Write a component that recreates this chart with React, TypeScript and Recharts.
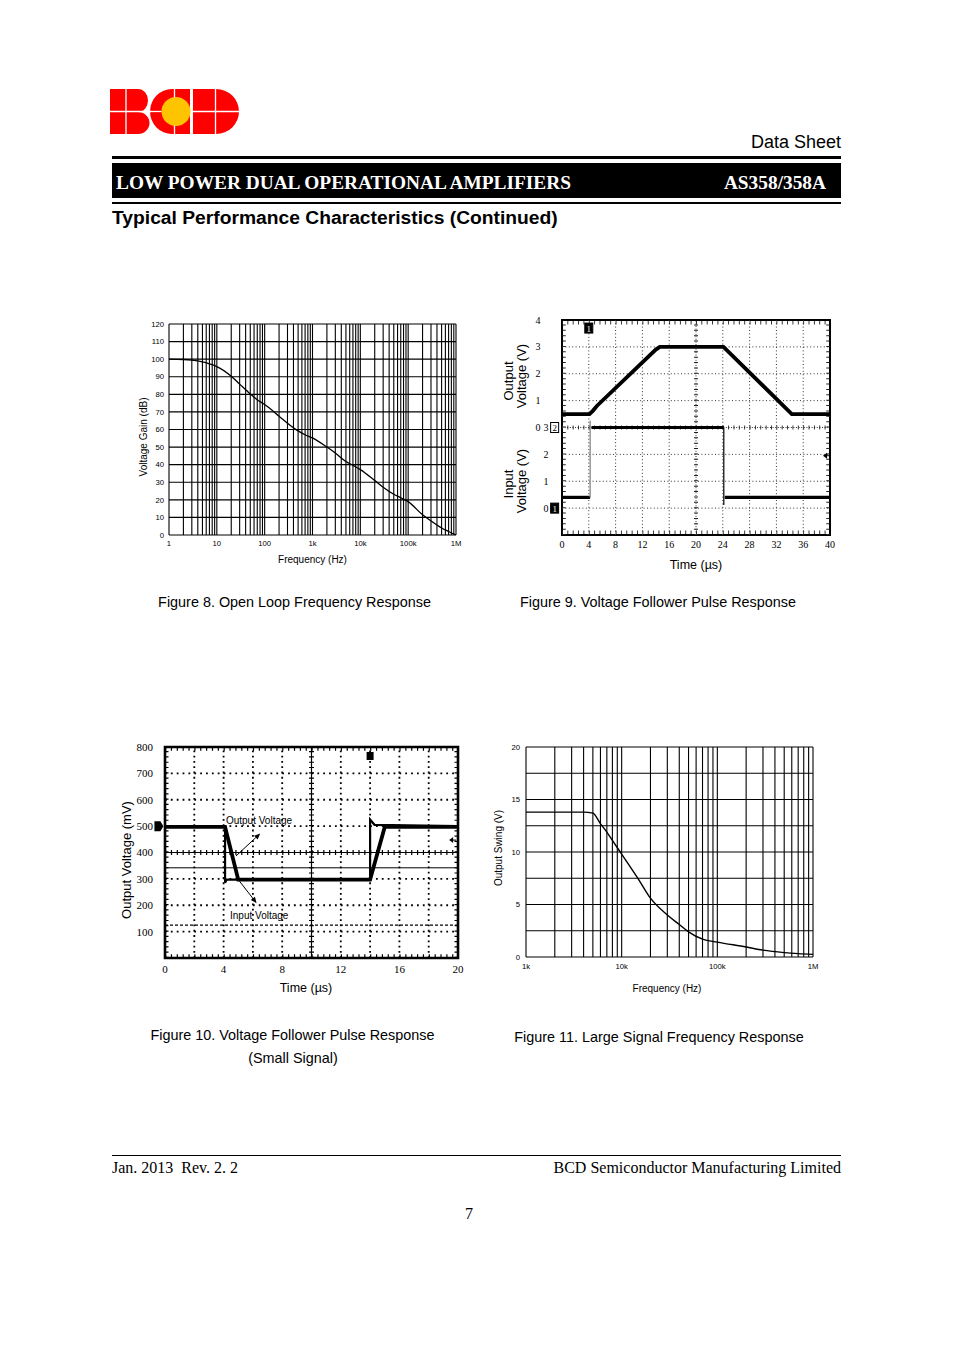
import React from 'react';
import { LineChart, Line, XAxis, YAxis, ReferenceLine, ReferenceArea, ReferenceDot } from 'recharts';

const SANS = "'Liberation Sans', Arial, sans-serif";
const SERIF = "'Liberation Serif', 'Times New Roman', serif";

// ---------------- Figure 8: Open loop frequency response ----------------
const fig8Freq = [1, 2, 3, 5, 7, 10, 20, 30, 50, 70, 100, 200, 300, 500, 700, 1000, 2000, 3000, 5000, 7000, 10000, 20000, 30000, 50000, 70000, 100000, 200000, 300000, 500000, 700000, 1000000];
const fig8Gain = [100, 99.8, 99.4, 98.4, 97.3, 95.8, 90.3, 85.8, 80.2, 76.9, 74.2, 67.6, 63.6, 59.2, 57, 55.2, 50, 46.6, 41.8, 39.6, 37.2, 31, 27.2, 23.2, 21.2, 19, 11.5, 8, 4, 2, 0];
const fig8XTicks = [1, 10, 100, 1000, 10000, 100000, 1000000];
const fig8XTickLabels = ['1', '10', '100', '1k', '10k', '100k', '1M'];
const fig8YTicks = [0, 10, 20, 30, 40, 50, 60, 70, 80, 90, 100, 110, 120];
const fig8GridFreq = [
  1, 2, 3, 4, 5, 6, 7, 8, 9,
  10, 20, 30, 40, 50, 60, 70, 80, 90,
  100, 200, 300, 400, 500, 600, 700, 800, 900,
  1000, 2000, 3000, 4000, 5000, 6000, 7000, 8000, 9000,
  10000, 20000, 30000, 40000, 50000, 60000, 70000, 80000, 90000,
  100000, 200000, 300000, 400000, 500000, 600000, 700000, 800000, 900000,
  1000000,
];

// ---------------- Figure 9: Voltage follower pulse response ----------------
const fig9XTicks = [0, 4, 8, 12, 16, 20, 24, 28, 32, 36, 40];
const fig9OutTicks = [0, 1, 2, 3, 4];
const fig9InTicks = [0, 1, 2, 3];
const fig9OutT = [0, 4.1, 4.6, 5.2, 14.0, 14.6, 24.1, 34.3, 40];
const fig9OutV = [0.5, 0.5, 0.62, 0.8, 2.9, 3.0, 3.0, 0.5, 0.5];
const fig9InLow1T = [0, 4.2];
const fig9InLow1V = [0.4, 0.4];
const fig9InRiseT = [4.2, 4.2];
const fig9InRiseV = [0.4, 3.25];
const fig9InHighT = [4.4, 24.15];
const fig9InHighV = [3.0, 3.0];
const fig9InFallT = [24.15, 24.15];
const fig9InFallV = [3.0, 0.12];
const fig9InLow2T = [24.3, 40];
const fig9InLow2V = [0.4, 0.4];
const fig9GridT = [4, 8, 12, 16, 24, 28, 32, 36];
const fig9GridV = [-3, -2, -1, 1, 2, 3];

// ---------------- Figure 10: small signal pulse response ----------------
const fig10XTicks = [0, 4, 8, 12, 16, 20];
const fig10YTicks = [100, 200, 300, 400, 500, 600, 700, 800];
const fig10OutT = [0, 4.1, 5.0, 14.0, 15.0, 20];
const fig10OutV = [497, 497, 297, 297, 497, 497];
const fig10InT = [0, 4.1, 4.1, 4.2, 14.0, 14.0, 14.3, 20];
const fig10InV = [500, 500, 285, 297, 297, 525, 505, 500];
const fig10GridT = [2, 4, 6, 8, 12, 14, 16, 18];
const fig10GridV = [100, 200, 300, 500, 600, 700];

// ---------------- Figure 11: large signal frequency response ----------------
const fig11Freq = [1000, 2000, 3000, 4000, 5000, 6000, 7000, 8000, 10000, 15000, 20000, 30000, 40000, 50000, 70000, 100000, 200000, 300000, 500000, 700000, 1000000];
const fig11Swing = [13.8, 13.8, 13.8, 13.8, 13.7, 12.7, 11.9, 11.1, 9.8, 7.4, 5.6, 4.0, 3.1, 2.4, 1.7, 1.42, 0.95, 0.65, 0.42, 0.32, 0.25];
const fig11XTicks = [1000, 10000, 100000, 1000000];
const fig11XTickLabels = ['1k', '10k', '100k', '1M'];
const fig11YTicks = [0, 5, 10, 15, 20];
const fig11GridY = [0, 2.5, 5, 7.5, 10, 12.5, 15, 17.5, 20];
const fig11GridFreq = [
  1000, 2000, 3000, 4000, 5000, 6000, 7000, 8000, 9000,
  10000, 20000, 30000, 40000, 50000, 60000, 70000, 80000, 90000,
  100000, 200000, 300000, 400000, 500000, 600000, 700000, 800000, 900000,
  1000000,
];

const zipTV = (t: number[], v: number[]) => t.map((x, i) => ({ t: x, v: v[i] }));

// ---------- helpers for text ----------
const rotText = (x: number, y: number, s: string, fs: number, key?: string) => (
  <text key={key} x={x} y={y} transform={`rotate(-90 ${x} ${y})`} textAnchor="middle" dominantBaseline="central" fontSize={fs} fontFamily={SANS} fill="#000">{s}</text>
);
const horText = (x: number, y: number, s: string, fs: number) => (
  <text x={x} y={y} textAnchor="middle" dominantBaseline="central" fontSize={fs} fontFamily={SANS} fill="#000">{s}</text>
);

const chanBox = (label: string, filled: boolean) => (p: any) => (
  <g>
    <rect x={p.cx - 4} y={p.cy - 5} width={8} height={10} fill={filled ? '#000' : '#fff'} stroke="#000" strokeWidth={1} />
    <text x={p.cx} y={p.cy + 3.5} fontSize={9} textAnchor="middle" fill={filled ? '#fff' : '#000'} fontFamily={SERIF}>{label}</text>
  </g>
);
const trigArrow = (p: any) => (
  <g>
    <polygon points={`${p.cx - 3},${p.cy} ${p.cx + 1},${p.cy - 3} ${p.cx + 1},${p.cy + 3}`} fill="#000" />
    <line x1={p.cx} y1={p.cy} x2={p.cx + 4} y2={p.cy} stroke="#000" strokeWidth={1} />
  </g>
);
const chanArrow = (p: any) => (
  <polygon points={`${p.cx - 4},${p.cy - 5} ${p.cx + 2},${p.cy - 5} ${p.cx + 5},${p.cy} ${p.cx + 2},${p.cy + 5} ${p.cx - 4},${p.cy + 5}`} fill="#000" />
);
const trigSquare = (p: any) => <rect x={p.cx - 3.5} y={p.cy - 4} width={7} height={8} fill="#000" />;
const annot = (s: string) => (p: any) => (
  <text x={p.cx} y={p.cy} dominantBaseline="central" fontSize={10} fontFamily={SANS} fill="#000">{s}</text>
);
const arrowShape = (p: any) => {
  const { x1, y1, x2, y2 } = p;
  const ang = Math.atan2(y2 - y1, x2 - x1);
  const L = 6, W = 2.6;
  const bx = x2 - L * Math.cos(ang), by = y2 - L * Math.sin(ang);
  const px = -Math.sin(ang) * W, py = Math.cos(ang) * W;
  return (
    <g>
      <line x1={x1} y1={y1} x2={bx} y2={by} stroke="#000" strokeWidth={1} />
      <polygon points={`${x2},${y2} ${bx + px},${by + py} ${bx - px},${by - py}`} fill="#000" />
    </g>
  );
};

const sansTick7 = { fontSize: 7.7, fill: '#000', fontFamily: SANS };

// ---------------- Figures ----------------
function Fig8() {
  const data = fig8Freq.map((f, i) => ({ f, g: fig8Gain[i] }));
  return (
    <LineChart width={360} height={270} data={data} margin={{ top: 14, right: 14, bottom: 0, left: 0 }}>
      <XAxis dataKey="f" type="number" scale="log" domain={[1, 1000000]} allowDataOverflow ticks={fig8XTicks} interval={0}
        tickFormatter={(v: number) => fig8XTickLabels[fig8XTicks.indexOf(v)]} height={45} axisLine={false} tickLine={false}
        tickSize={0} tickMargin={6} tick={sansTick7}
        label={(p: any) => horText(p.viewBox.x + p.viewBox.width / 2, p.viewBox.y + 24, 'Frequency (Hz)', 10)} />
      <YAxis type="number" domain={[0, 120]} allowDataOverflow ticks={fig8YTicks} interval={0} width={59} axisLine={false}
        tickLine={false} tickSize={0} tickMargin={5} tick={sansTick7}
        label={(p: any) => rotText(p.viewBox.x + 33, p.viewBox.y + 113, 'Voltage Gain (dB)', 10)} />
      {fig8GridFreq.map((f) => (
        <ReferenceLine key={'gx' + f} x={f} stroke="#000" strokeWidth={1.1} />
      ))}
      {fig8YTicks.map((v) => (
        <ReferenceLine key={'gy' + v} y={v} stroke="#000" strokeWidth={1.1} />
      ))}
      <Line dataKey="g" type="monotone" stroke="#000" strokeWidth={1.3} dot={false} activeDot={false} isAnimationActive={false} />
    </LineChart>
  );
}

function Fig9() {
  const dotted = { stroke: '#333', strokeWidth: 1, strokeDasharray: '1 2.4' };
  return (
    <LineChart width={345} height={270} margin={{ top: 10, right: 10, bottom: 0, left: 0 }}>
      <XAxis dataKey="t" type="number" domain={[0, 40]} allowDataOverflow ticks={fig9XTicks} interval={0} height={45}
        axisLine={false} tickLine={false} tickSize={0} tickMargin={5.5}
        tick={{ fontSize: 10, fill: '#000', fontFamily: SERIF }}
        label={(p: any) => horText(p.viewBox.x + p.viewBox.width / 2, p.viewBox.y + 30, 'Time (\u00b5s)', 12.5)} />
      <YAxis yAxisId="in" type="number" domain={[-1, 7]} allowDataOverflow ticks={fig9InTicks} interval={0} width={14}
        axisLine={false} tickLine={false} tickSize={0} tickMargin={13.5}
        tick={{ fontSize: 10, fill: '#000', fontFamily: SERIF }} />
      <YAxis yAxisId="out" type="number" domain={[-4, 4]} allowDataOverflow ticks={fig9OutTicks} interval={0} width={53}
        axisLine={false} tickLine={false} tickSize={0} tickMargin={7.5}
        tick={{ fontSize: 10, fill: '#000', fontFamily: SERIF }}
        label={(p: any) => (
          <g>
            {rotText(p.viewBox.x + 13, p.viewBox.y + 61, 'Output', 13, 'a')}
            {rotText(p.viewBox.x + 26, p.viewBox.y + 56, 'Voltage (V)', 13, 'b')}
            {rotText(p.viewBox.x + 13, p.viewBox.y + 164, 'Input', 13, 'c')}
            {rotText(p.viewBox.x + 26, p.viewBox.y + 161, 'Voltage (V)', 13, 'd')}
          </g>
        )} />
      {fig9GridT.map((t) => (
        <ReferenceLine key={'gx' + t} yAxisId="out" x={t} {...dotted} />
      ))}
      {fig9GridV.map((v) => (
        <ReferenceLine key={'gy' + v} yAxisId="out" y={v} {...dotted} />
      ))}
      <ReferenceLine yAxisId="out" x={20} stroke="#333" strokeWidth={1} strokeDasharray="1 1.6" />
      <ReferenceLine yAxisId="out" y={0} stroke="#333" strokeWidth={1} strokeDasharray="1 1.6" />
      <ReferenceLine yAxisId="out" x={20} stroke="#222" strokeWidth={4} strokeDasharray="0.9 4.475" />
      <ReferenceLine yAxisId="out" y={0} stroke="#222" strokeWidth={4} strokeDasharray="0.9 4.46" />
      <ReferenceLine yAxisId="out" x={0.3} stroke="#222" strokeWidth={3.5} strokeDasharray="0.9 4.475" />
      <ReferenceLine yAxisId="out" x={39.7} stroke="#222" strokeWidth={3.5} strokeDasharray="0.9 4.475" />
      <ReferenceLine yAxisId="out" y={3.9} stroke="#222" strokeWidth={3.5} strokeDasharray="0.9 4.46" />
      <ReferenceLine yAxisId="out" y={-3.9} stroke="#222" strokeWidth={3.5} strokeDasharray="0.9 4.46" />
      <ReferenceArea yAxisId="out" x1={0} x2={40} y1={-4} y2={4} fill="none" fillOpacity={0} stroke="#000" strokeWidth={2} ifOverflow="visible" />
      <Line yAxisId="out" data={zipTV(fig9OutT, fig9OutV)} dataKey="v" type="linear" stroke="#000" strokeWidth={3.8} dot={false} activeDot={false} isAnimationActive={false} />
      <Line yAxisId="in" data={zipTV(fig9InLow1T, fig9InLow1V)} dataKey="v" type="linear" stroke="#000" strokeWidth={3.2} dot={false} activeDot={false} isAnimationActive={false} />
      <Line yAxisId="in" data={zipTV(fig9InRiseT, fig9InRiseV)} dataKey="v" type="linear" stroke="#888" strokeWidth={1.3} dot={false} activeDot={false} isAnimationActive={false} />
      <Line yAxisId="in" data={zipTV(fig9InHighT, fig9InHighV)} dataKey="v" type="linear" stroke="#000" strokeWidth={3} dot={false} activeDot={false} isAnimationActive={false} />
      <Line yAxisId="in" data={zipTV(fig9InFallT, fig9InFallV)} dataKey="v" type="linear" stroke="#000" strokeWidth={1.2} dot={false} activeDot={false} isAnimationActive={false} />
      <Line yAxisId="in" data={zipTV(fig9InLow2T, fig9InLow2V)} dataKey="v" type="linear" stroke="#000" strokeWidth={3.2} dot={false} activeDot={false} isAnimationActive={false} />
      <ReferenceDot yAxisId="out" x={4} y={3.7} ifOverflow="visible" shape={chanBox('1', true)} />
      <ReferenceDot yAxisId="in" x={-1.1} y={3} ifOverflow="visible" shape={chanBox('2', false)} />
      <ReferenceDot yAxisId="in" x={-1.1} y={0} ifOverflow="visible" shape={chanBox('1', true)} />
      <ReferenceDot yAxisId="in" x={39.4} y={1.95} ifOverflow="visible" shape={trigArrow} />
    </LineChart>
  );
}

function Fig10() {
  const dottedH = { stroke: '#000', strokeWidth: 1.8, strokeDasharray: '1.8 4.06' };
  const dottedV = { stroke: '#000', strokeWidth: 1.8, strokeDasharray: '1.8 3.475' };
  return (
    <LineChart width={360} height={260} margin={{ top: 7, right: 12, bottom: 0, left: 0 }}>
      <XAxis dataKey="t" type="number" domain={[0, 20]} allowDataOverflow ticks={fig10XTicks} interval={0} height={42}
        axisLine={false} tickLine={false} tickSize={0} tickMargin={7}
        tick={{ fontSize: 11, fill: '#000', fontFamily: SERIF }}
        label={(p: any) => horText(p.viewBox.x + p.viewBox.width / 2 - 5.5, p.viewBox.y + 30, 'Time (\u00b5s)', 12.5)} />
      <YAxis type="number" domain={[0, 800]} allowDataOverflow ticks={fig10YTicks} interval={0} width={55}
        axisLine={false} tickLine={false} tickSize={0} tickMargin={12}
        tick={{ fontSize: 11, fill: '#000', fontFamily: SERIF }}
        label={(p: any) => rotText(p.viewBox.x + 16, p.viewBox.y + 113, 'Output Voltage (mV)', 13)} />
      {fig10GridT.map((t) => (
        <ReferenceLine key={'gx' + t} x={t} {...dottedV} />
      ))}
      {fig10GridV.map((v) => (
        <ReferenceLine key={'gy' + v} y={v} {...dottedH} />
      ))}
      <ReferenceLine x={10} stroke="#000" strokeWidth={1.2} />
      <ReferenceLine y={400} stroke="#000" strokeWidth={1.2} />
      <ReferenceLine x={10} stroke="#000" strokeWidth={5} strokeDasharray="1.2 4.075" />
      <ReferenceLine y={400} stroke="#000" strokeWidth={5} strokeDasharray="1.2 4.66" />
      <ReferenceLine x={0.12} stroke="#000" strokeWidth={3.5} strokeDasharray="1.2 4.075" />
      <ReferenceLine x={19.88} stroke="#000" strokeWidth={3.5} strokeDasharray="1.2 4.075" />
      <ReferenceLine y={792} stroke="#000" strokeWidth={3.5} strokeDasharray="1.2 4.66" />
      <ReferenceLine y={8} stroke="#000" strokeWidth={3.5} strokeDasharray="1.2 4.66" />
      <ReferenceLine y={342} stroke="#000" strokeWidth={1} />
      <ReferenceLine y={125} stroke="#000" strokeWidth={1.3} strokeDasharray="3 2" />
      <ReferenceArea x1={0} x2={20} y1={0} y2={800} fill="none" fillOpacity={0} stroke="#000" strokeWidth={2.6} ifOverflow="visible" />
      <Line data={zipTV(fig10InT, fig10InV)} dataKey="v" type="linear" stroke="#000" strokeWidth={2.2} dot={false} activeDot={false} isAnimationActive={false} />
      <Line data={zipTV(fig10OutT, fig10OutV)} dataKey="v" type="linear" stroke="#000" strokeWidth={3.8} dot={false} activeDot={false} isAnimationActive={false} />
      <ReferenceLine segment={[{ x: 4.85, y: 387 }, { x: 6.5, y: 472 }]} shape={arrowShape} ifOverflow="visible" />
      <ReferenceLine segment={[{ x: 4.99, y: 298 }, { x: 6.25, y: 208 }]} shape={arrowShape} ifOverflow="visible" />
      <ReferenceDot x={4.16} y={523} ifOverflow="visible" shape={annot('Output Voltage')} />
      <ReferenceDot x={4.44} y={163} ifOverflow="visible" shape={annot('Input Voltage')} />
      <ReferenceDot x={-0.45} y={500} ifOverflow="visible" shape={chanArrow} />
      <ReferenceDot x={14} y={766} ifOverflow="visible" shape={trigSquare} />
      <ReferenceDot x={19.6} y={447} ifOverflow="visible" shape={trigArrow} />
    </LineChart>
  );
}

function Fig11() {
  const data = fig11Freq.map((f, i) => ({ f, s: fig11Swing[i] }));
  return (
    <LineChart width={340} height={265} data={data} margin={{ top: 12, right: 12, bottom: 0, left: 0 }}>
      <XAxis dataKey="f" type="number" scale="log" domain={[1000, 1000000]} allowDataOverflow ticks={fig11XTicks} interval={0}
        tickFormatter={(v: number) => fig11XTickLabels[fig11XTicks.indexOf(v)]} height={43} axisLine={false} tickLine={false}
        tickSize={0} tickMargin={6.3} tick={sansTick7}
        label={(p: any) => horText(p.viewBox.x + 141, p.viewBox.y + 31, 'Frequency (Hz)', 10)} />
      <YAxis type="number" domain={[0, 20]} allowDataOverflow ticks={fig11YTicks} interval={0} width={41} axisLine={false}
        tickLine={false} tickSize={0} tickMargin={6} tick={sansTick7}
        label={(p: any) => rotText(p.viewBox.x + 13, p.viewBox.y + 101, 'Output Swing (V)', 10)} />
      {fig11GridFreq.map((f) => (
        <ReferenceLine key={'gx' + f} x={f} stroke="#000" strokeWidth={1.1} />
      ))}
      {fig11GridY.map((v) => (
        <ReferenceLine key={'gy' + v} y={v} stroke="#000" strokeWidth={1.1} />
      ))}
      <Line dataKey="s" type="monotone" stroke="#000" strokeWidth={1.4} dot={false} activeDot={false} isAnimationActive={false} />
    </LineChart>
  );
}

function Logo() {
  return (
    <svg style={{ position: 'absolute', left: 105, top: 85 }} width={140} height={55} viewBox="105 85 140 55">
      <path d="M110,89 H138 A10,11.5 0 0 1 138,112 A11.5,11 0 0 1 138,134 H110 Z" fill="#ff0000" />
      <path d="M190,89 H172 A22,22.5 0 0 0 172,134 H190 Z" fill="#ff0000" />
      <circle cx={176} cy={111.5} r={14.5} fill="#ffc400" />
      <path d="M193,89 H216 A23,22.5 0 0 1 216,134 H193 Z" fill="#ff0000" />
      <g stroke="#fff" strokeWidth={1.3}>
        <line x1={126} y1={88} x2={126} y2={135} />
        <line x1={109} y1={111.5} x2={151} y2={111.5} />
        <line x1={174.5} y1={88} x2={174.5} y2={97.5} />
        <line x1={174.5} y1={125.5} x2={174.5} y2={135} />
        <line x1={150} y1={111.5} x2={161.5} y2={111.5} />
        <line x1={215.5} y1={88} x2={215.5} y2={135} />
        <line x1={192} y1={111.5} x2={240} y2={111.5} />
      </g>
    </svg>
  );
}

const abs = (left: number, top: number, extra: React.CSSProperties = {}): React.CSSProperties => ({
  position: 'absolute', left, top, ...extra,
});

function Caption({ cx, cy, text }: { cx: number; cy: number; text: string }) {
  return (
    <div style={abs(cx - 200, cy - 10, { width: 400, height: 20, lineHeight: '20px', textAlign: 'center', fontSize: 14.4, fontFamily: SANS, color: '#000' })}>{text}</div>
  );
}

export default function App() {
  return (
    <div style={{ position: 'absolute', left: 0, top: 0, width: 954, height: 1350, background: '#fff', overflow: 'hidden' }}>
      <Logo />
      <div style={abs(600, 131, { width: 241, height: 22, lineHeight: '22px', textAlign: 'right', fontSize: 18, fontFamily: SANS })}>Data Sheet</div>
      <div style={abs(112, 156, { width: 729, height: 3, background: '#000' })} />
      <div style={abs(112, 163, { width: 729, height: 35, background: '#000' })} />
      <div style={abs(116, 172, { width: 500, height: 22, lineHeight: '22px', color: '#fff', fontSize: 19.35, fontWeight: 'bold', fontFamily: SERIF, whiteSpace: 'nowrap' })}>LOW POWER DUAL OPERATIONAL AMPLIFIERS</div>
      <div style={abs(626, 172, { width: 200, height: 22, lineHeight: '22px', color: '#fff', fontSize: 19.35, fontWeight: 'bold', fontFamily: SERIF, textAlign: 'right' })}>AS358/358A</div>
      <div style={abs(112, 202, { width: 729, height: 1.5, background: '#000' })} />
      <div style={abs(112, 207, { width: 600, height: 22, lineHeight: '22px', fontSize: 19.25, fontWeight: 'bold', fontFamily: SANS, whiteSpace: 'nowrap' })}>Typical Performance Characteristics (Continued)</div>

      <div style={abs(110, 310)}><Fig8 /></div>
      <div style={abs(495, 310)}><Fig9 /></div>
      <div style={abs(110, 740)}><Fig10 /></div>
      <div style={abs(485, 735)}><Fig11 /></div>

      <Caption cx={294.5} cy={602} text="Figure 8. Open Loop Frequency Response" />
      <Caption cx={658} cy={602} text="Figure 9. Voltage Follower Pulse Response" />
      <Caption cx={292.5} cy={1035} text="Figure 10. Voltage Follower Pulse Response" />
      <Caption cx={293} cy={1058} text="(Small Signal)" />
      <Caption cx={659} cy={1037} text="Figure 11. Large Signal Frequency Response" />

      <div style={abs(112, 1155, { width: 729, height: 1, background: '#000' })} />
      <div style={abs(112, 1158, { width: 300, height: 20, lineHeight: '20px', fontSize: 16, fontFamily: SERIF, whiteSpace: 'pre' })}>{'Jan. 2013  Rev. 2. 2'}</div>
      <div style={abs(441, 1158, { width: 400, height: 20, lineHeight: '20px', fontSize: 16, fontFamily: SERIF, textAlign: 'right' })}>BCD Semiconductor Manufacturing Limited</div>
      <div style={abs(419, 1204, { width: 100, height: 20, lineHeight: '20px', fontSize: 16, fontFamily: SERIF, textAlign: 'center' })}>7</div>
    </div>
  );
}
